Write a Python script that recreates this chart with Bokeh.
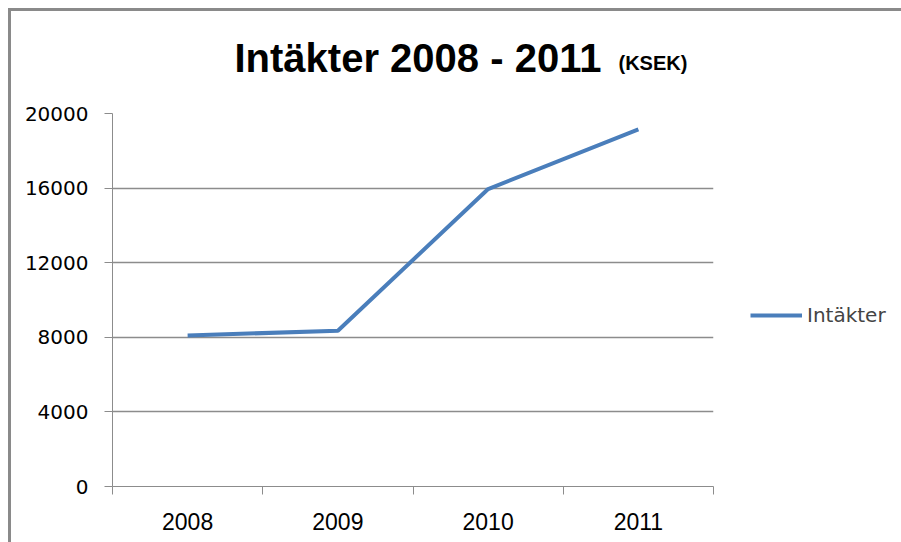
from bokeh.plotting import figure
from bokeh.layouts import column
from bokeh.models import Legend, LegendItem, FixedTicker, Range1d
from bokeh.embed import file_html
from bokeh.resources import INLINE
from bokeh.core.properties import value

years = ["2008", "2009", "2010", "2011"]
intakter = [8100, 8350, 15950, 19150]
y_ticks = [0, 4000, 8000, 12000, 16000, 20000]
title_main = "Intäkter 2008 - 2011"
title_unit = "(KSEK)"
series_name = "Intäkter"

TOTAL_W = 890
TITLE_H = 80
FRAME_W = 601
LEFT = 101
RIGHT = TOTAL_W - LEFT - FRAME_W

# ---- title strip (text only) ----
t = figure(frame_width=FRAME_W, frame_height=TITLE_H, x_range=Range1d(0, FRAME_W),
           y_range=Range1d(0, TITLE_H), output_backend="svg",
           toolbar_location=None, min_border_left=LEFT, min_border_right=RIGHT,
           min_border_top=0, min_border_bottom=0)
t.axis.visible = False
t.grid.visible = False
t.outline_line_color = None
t.text(x=[122], y=[34], text=[title_main], text_font=value("Liberation Sans"),
       text_font_style="bold", text_font_size=value("40px"),
       text_baseline="alphabetic", text_align="left", text_color="black")
t.text(x=[506], y=[29], text=[title_unit], text_font=value("Liberation Sans"),
       text_font_style="bold", text_font_size=value("20px"),
       text_baseline="alphabetic", text_align="left", text_color="black")

# ---- main chart ----
xs = [i + 0.5 for i in range(len(years))]
bounds = list(range(len(years) + 1))

p = figure(frame_width=FRAME_W, frame_height=373,
           min_border_left=LEFT, min_border_top=22,
           min_border_right=RIGHT, min_border_bottom=56,
           x_range=Range1d(0, len(years)), y_range=Range1d(0, 20000),
           output_backend="svg", toolbar_location=None)
p.outline_line_color = None

r = p.line(xs, intakter, line_color="#4a7ebb", line_width=4)

p.xgrid.visible = False
p.ygrid.ticker = FixedTicker(ticks=y_ticks)
p.ygrid.grid_line_color = "#8c8c8c"
p.ygrid.grid_line_width = 1.5

ya = p.yaxis[0]
ya.ticker = FixedTicker(ticks=y_ticks)
ya.axis_line_color = "#8c8c8c"
ya.major_tick_line_color = "#8c8c8c"
ya.major_tick_out = 8
ya.major_tick_in = 0
ya.minor_tick_line_color = None
ya.major_label_standoff = 16
ya.major_label_text_font = "DejaVu Sans"
ya.major_label_text_font_size = "20px"
ya.major_label_text_color = "black"

xa = p.xaxis[0]
xa.ticker = FixedTicker(ticks=xs, minor_ticks=bounds)
xa.major_label_overrides = {x: y for x, y in zip(xs, years)}
xa.axis_line_color = "#8c8c8c"
xa.major_tick_line_color = None
xa.major_tick_out = 0
xa.major_tick_in = 0
xa.minor_tick_line_color = "#8c8c8c"
xa.minor_tick_out = 8
xa.minor_tick_in = 0
xa.major_label_standoff = 18
xa.major_label_text_font = "Liberation Sans"
xa.major_label_text_font_size = "23px"
xa.major_label_text_color = "black"

legend = Legend(items=[LegendItem(label=series_name, renderers=[r])],
                location=(37, 159), padding=0, margin=0,
                glyph_width=52, glyph_height=20, label_standoff=5,
                label_text_font="DejaVu Sans", label_text_font_size="20px",
                border_line_color=None, background_fill_alpha=0)
p.add_layout(legend, "right")

page = column(t, p, spacing=0,
              styles={"margin-left": "8px", "margin-top": "8px",
                      "border-left": "3px solid #8a8a8a",
                      "border-top": "3px solid #8a8a8a"})

open("out.html", "w").write(file_html(page, INLINE))
